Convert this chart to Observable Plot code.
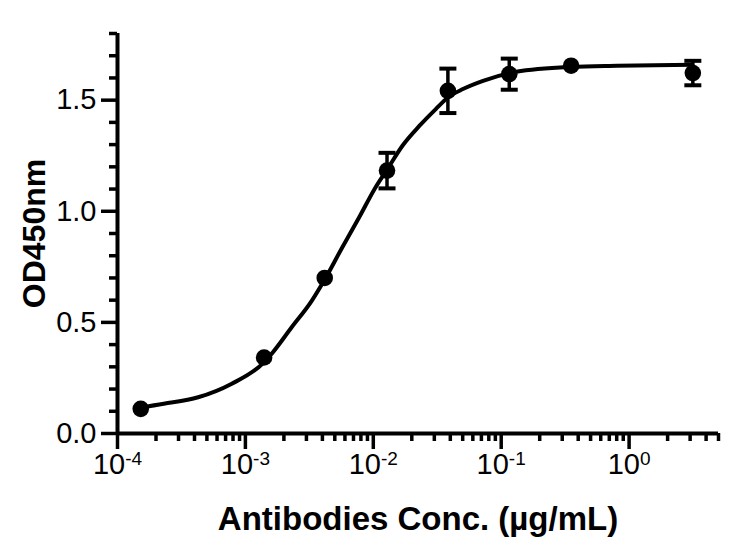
<!DOCTYPE html>
<html>
<head>
<meta charset="utf-8">
<script src="https://cdn.jsdelivr.net/npm/d3@7"></script>
<script src="https://cdn.jsdelivr.net/npm/@observablehq/plot@0.6"></script>
<style>
  html, body { margin: 0; padding: 0; background: #fff; }
</style>
</head>
<body>
<div id="chart"></div>
<script>
// Measured data points (concentration µg/mL, OD450nm, error)
const conc = [1.52e-4, 1.40e-3, 4.17e-3, 1.28e-2, 3.83e-2, 0.1156, 0.352, 3.15];
const od   = [0.111, 0.342, 0.700, 1.183, 1.542, 1.617, 1.655, 1.622];
const err  = [0, 0, 0, 0.080, 0.100, 0.070, 0, 0.055];

// Fitted curve, points
const curveX = [1.50e-4, 2.30e-4, 4.27e-4, 7.76e-4, 1.39e-3, 1.60e-3, 2.30e-3, 3.31e-3, 4.19e-3, 5.70e-3, 7.76e-3, 1.04e-2, 1.29e-2, 1.69e-2, 2.30e-2, 3.08e-2, 3.83e-2, 5.02e-2, 7.21e-2, 0.131, 0.349, 0.805, 3.13];
const curveY = [0.117, 0.134, 0.163, 0.223, 0.319, 0.358, 0.478, 0.598, 0.695, 0.836, 0.973, 1.107, 1.190, 1.295, 1.385, 1.460, 1.512, 1.550, 1.587, 1.628, 1.650, 1.655, 1.659];

// Axes
const xDomain = [1e-4, 5];
const yDomain = [0, 1.8];
const xMajor = [1e-4, 1e-3, 1e-2, 1e-1, 1];
const xMajorLabels = ["10^-4", "10^-3", "10^-2", "10^-1", "10^0"];
const xMinorMultipliers = [2, 3, 4, 5, 6, 7, 8, 9];
const yMajor = [0, 0.5, 1.0, 1.5];
const yMinor = [0.1, 0.2, 0.3, 0.4, 0.6, 0.7, 0.8, 0.9, 1.1, 1.2, 1.3, 1.4, 1.6, 1.7, 1.8];
const xTitle = "Antibodies Conc. (µg/mL)";
const yTitle = "OD450nm";

const points = conc.map((c, i) => ({conc: c, od: od[i], err: err[i]}));
const bars = points.filter(d => d.err > 0);
const curve = curveX.map((x, i) => ({x, y: curveY[i]}));
const xMinor = xMajor.flatMap(m => xMinorMultipliers.map(k => k * m)).filter(v => v <= xDomain[1] * 1.0001);

const cap = {
  draw(ctx, size) {
    const w = Math.sqrt(size / Math.PI);
    ctx.moveTo(-w, 0);
    ctx.lineTo(w, 0);
  }
};

const FONT = "'Liberation Sans', Arial, Helvetica, sans-serif";
const TICKFONT = "'Liberation Sans Narrow', 'Arial Narrow', 'Liberation Sans', Arial, sans-serif";

const chart = Plot.plot({
  width: 749,
  height: 541,
  marginLeft: 117,
  marginRight: 31,
  marginTop: 33,
  marginBottom: 108,
  style: {fontFamily: FONT, background: "#fff", color: "#000"},
  x: {type: "log", domain: xDomain},
  y: {domain: yDomain},
  marks: [
    // minor ticks
    Plot.axisX({ticks: xMinor, tickSize: 8, tickFormat: () => "", strokeWidth: 3.5, label: null}),
    Plot.axisY({ticks: yMinor, tickSize: 8, tickFormat: () => "", strokeWidth: 3.5, label: null}),
    // major ticks
    Plot.axisX({ticks: xMajor, tickSize: 16, tickPadding: 4, strokeWidth: 3.5,
      tickFormat: (d) => xMajorLabels[xMajor.indexOf(d)], label: null}),
    Plot.axisY({ticks: yMajor, tickSize: 16, tickPadding: 5, strokeWidth: 3.5,
      tickFormat: d3.format(".1f"), label: null}),
    // axis lines
    Plot.ruleX([xDomain[0]], {y1: yDomain[0], y2: yDomain[1], strokeWidth: 4}),
    Plot.ruleY([yDomain[0]], {x1: xDomain[0], x2: xDomain[1], strokeWidth: 4}),
    // fitted curve
    Plot.line(curve, {x: "x", y: "y", curve: "monotone-x", stroke: "#000", strokeWidth: 4}),
    // error bars
    Plot.ruleX(bars, {x: "conc", y1: d => d.od - d.err, y2: d => d.od + d.err, stroke: "#000", strokeWidth: 3.5}),
    Plot.dot(bars, {x: "conc", y: d => d.od + d.err, symbol: cap, r: 8.5, stroke: "#000", strokeWidth: 4, fill: "none"}),
    Plot.dot(bars, {x: "conc", y: d => d.od - d.err, symbol: cap, r: 8.5, stroke: "#000", strokeWidth: 4, fill: "none"}),
    // data points
    Plot.dot(points, {x: "conc", y: "od", r: 8.3, fill: "#000", stroke: "none"}),
    // titles
    Plot.text([yTitle], {frameAnchor: "left", textAnchor: "middle", dx: -83, rotate: -90, fontSize: 32, fontWeight: "bold", fill: "#000"}),
    Plot.text([xTitle], {frameAnchor: "bottom", textAnchor: "middle", dy: 86, lineAnchor: "middle", fontSize: 33, fontWeight: "bold", fill: "#000"})
  ]
});

// tick label fonts and superscript exponents
d3.select(chart).selectAll('g[aria-label="x-axis tick label"], g[aria-label="y-axis tick label"]')
  .style("font-size", "29px").style("font-family", TICKFONT);
d3.select(chart).selectAll("text").each(function() {
  const t = this.textContent;
  if (/^10\^/.test(t)) {
    const [base, exp] = t.split("^");
    const sel = d3.select(this);
    sel.text(null);
    sel.append("tspan").text(base);
    sel.append("tspan").attr("dy", "-0.5em").style("font-size", "19px").text(exp);
  }
});

document.getElementById("chart").appendChild(chart);
</script>
</body>
</html>
